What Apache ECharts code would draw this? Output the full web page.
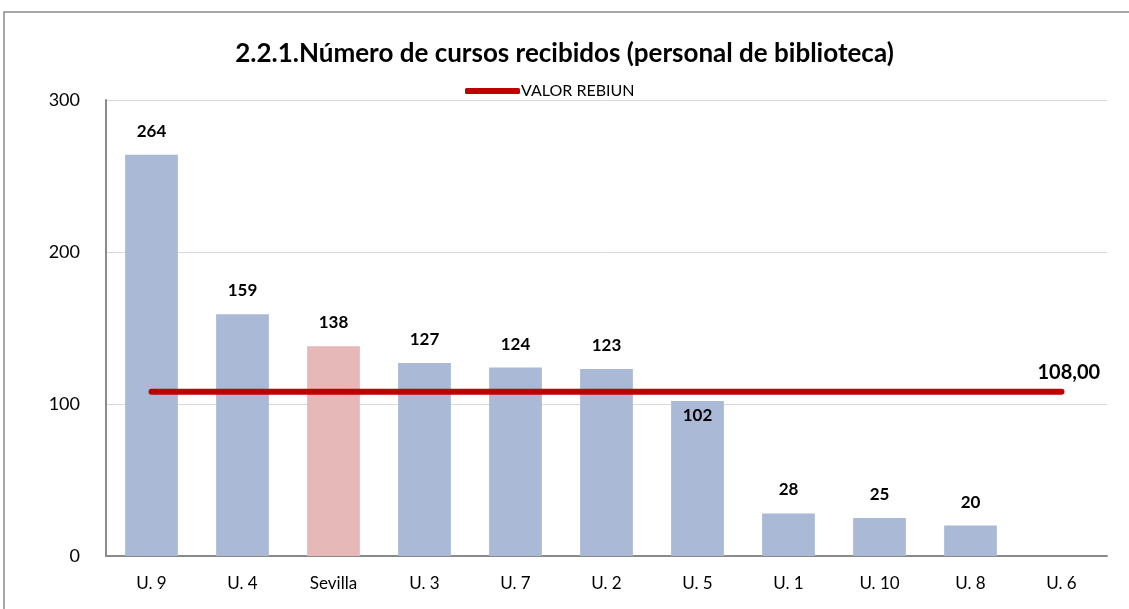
<!DOCTYPE html>
<html>
<head>
<meta charset="utf-8">
<script src="https://cdn.jsdelivr.net/npm/echarts@6/dist/echarts.min.js"></script>
<style>
  html, body { margin: 0; padding: 0; background: #fff; }
  #chart { width: 1129px; height: 609px; }
</style>
</head>
<body>
<div id="chart"></div>
<script>
// data
const categories = ["U. 9", "U. 4", "Sevilla", "U. 3", "U. 7", "U. 2", "U. 5", "U. 1", "U. 10", "U. 8", "U. 6"];
const cursos = [264, 159, 138, 127, 124, 123, 102, 28, 25, 20, 0];
const rebiun = 108;
const yTicks = [0, 100, 200, 300];

const FONT = "Lato, 'Open Sans', sans-serif";

const chart = echarts.init(document.getElementById("chart"), null, { renderer: "canvas" });

const barData = cursos.map((v, i) => {
  let item = { value: v };
  if (categories[i] === "Sevilla") {
    item.itemStyle = { color: "#E6B9B8" };
  }
  if (v === 0) {
    item.label = { show: false };
  }
  // label of U.5 sits under the reference line
  if (categories[i] === "U. 5") {
    item.label = { position: "insideTop", distance: 6 };
  }
  return item;
});

const option = {
  animation: false,
  title: {
    text: "2.2.1.Número de cursos recibidos (personal de biblioteca)",
    left: "center",
    top: 36,
    textStyle: { fontFamily: FONT, fontSize: 26, fontWeight: "bold", color: "#000" },
  },
  legend: {
    top: 78,
    left: 460,
    itemWidth: 55,
    itemHeight: 6,
    itemGap: 2,
    icon: "roundRect",
    data: ["VALOR REBIUN"],
    textStyle: { fontFamily: FONT, fontSize: 16, color: "#000", padding: [0, 0, 0, -4] },
  },
  graphic: [
    {
      type: "rect",
      shape: { x: 4, y: 12, width: 1140, height: 620 },
      style: { fill: "none", stroke: "#8a8a8a", lineWidth: 1.5 },
      silent: true,
    },
  ],
  grid: { left: 106, right: 22, top: 100, bottom: 53 },
  xAxis: {
    type: "category",
    data: categories,
    axisLine: { lineStyle: { color: "#8a8a8a", width: 2 } },
    axisTick: { show: false },
    axisLabel: { fontFamily: FONT, fontSize: 17, color: "#000", margin: 19 },
  },
  yAxis: {
    type: "value",
    min: yTicks[0],
    max: yTicks[yTicks.length - 1],
    interval: 100,
    axisLine: { show: true, lineStyle: { color: "#8a8a8a", width: 2 } },
    axisTick: { show: false },
    splitLine: { lineStyle: { color: "#d9d9d9", width: 1 } },
    axisLabel: { fontFamily: FONT, fontSize: 18, color: "#000", margin: 26 },
  },
  series: [
    {
      name: "cursos",
      type: "bar",
      barWidth: "58%",
      data: barData,
      itemStyle: { color: "#AAB9D6" },
      label: {
        show: true,
        position: "top",
        distance: 15,
        fontFamily: FONT,
        fontSize: 17,
        fontWeight: "bold",
        color: "#000",
      },
      z: 2,
    },
    {
      name: "VALOR REBIUN",
      type: "line",
      data: categories.map(() => rebiun),
      symbol: "none",
      lineStyle: { color: "#C00000", width: 6, cap: "round" },
      itemStyle: { color: "#C00000" },
      endLabel: {
        show: true,
        formatter: (p) => p.value.toFixed(2).replace(".", ","),
        fontFamily: FONT,
        fontSize: 20,
        fontWeight: "bold",
        color: "#000",
        offset: [-32, -19],
      },
      z: 3,
    },
  ],
};

chart.setOption(option);
</script>
</body>
</html>
